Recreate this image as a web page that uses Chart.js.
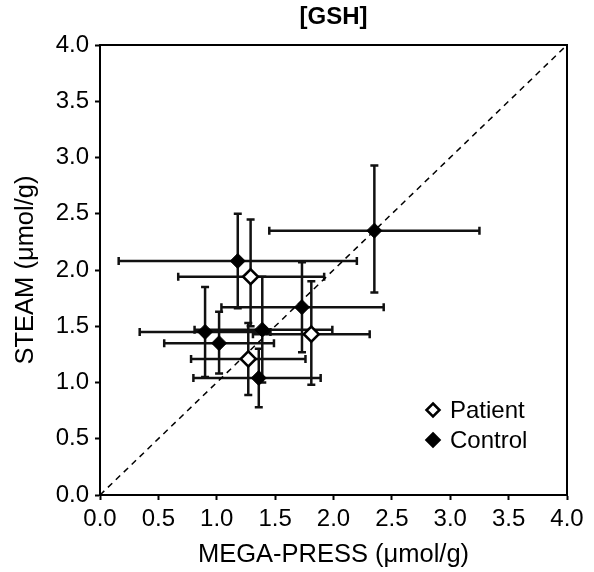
<!DOCTYPE html>
<html>
<head>
<meta charset="utf-8">
<script src="https://cdn.jsdelivr.net/npm/chart.js@4"></script>
<style>
  body { margin: 0; background: #fff; }
  #wrap { width: 594px; height: 572px; }
</style>
</head>
<body>
<div id="wrap"><canvas id="gsh" width="594" height="572"></canvas></div>
<script>
// Axis ticks (both axes share the same range)
const tickVals = [0, 0.5, 1, 1.5, 2, 2.5, 3, 3.5, 4];

// Line of identity
const diagX = [0, 4];
const diagY = [0, 4];

// Patient points: MEGA-PRESS (x) vs STEAM (y), with error bar ends
const patientX    = [1.29, 1.81, 1.27];
const patientY    = [1.94, 1.43, 1.21];
const patientXLo  = [0.67, 1.31, 0.78];
const patientXHi  = [1.92, 2.31, 1.76];
const patientYLo  = [1.50, 0.98, 0.89];
const patientYHi  = [2.45, 1.90, 1.53];

// Control points
const controlX    = [1.18, 2.35, 1.73, 0.90, 1.39, 1.02, 1.36];
const controlY    = [2.08, 2.35, 1.67, 1.45, 1.47, 1.35, 1.04];
const controlXLo  = [0.16, 1.45, 1.04, 0.34, 0.81, 0.55, 0.80];
const controlXHi  = [2.20, 3.25, 2.43, 1.46, 1.99, 1.49, 1.89];
const controlYLo  = [1.66, 1.80, 1.27, 1.05, 1.00, 1.08, 0.78];
const controlYHi  = [2.50, 2.93, 2.07, 1.85, 1.94, 1.63, 1.30];

const FONT = "'Liberation Sans', Arial, sans-serif";

function toPoints(xs, ys, xlo, xhi, ylo, yhi) {
    return xs.map((x, i) => ({
        x: x, y: ys[i],
        xMin: xlo[i], xMax: xhi[i],
        yMin: ylo[i], yMax: yhi[i]
    }));
}

// Draws the error bars of every scatter dataset through the chart scales
const errorBars = {
    id: 'errorBars',
    beforeDatasetsDraw(chart) {
        const ctx = chart.ctx;
        const xs = chart.scales.x, ys = chart.scales.y;
        const cap = 4;
        ctx.save();
        ctx.strokeStyle = '#111';
        ctx.lineWidth = 2.5;
        chart.data.datasets.forEach(ds => {
            if (!ds.errorBars) return;
            ds.data.forEach(p => {
                const px = xs.getPixelForValue(p.x);
                const py = ys.getPixelForValue(p.y);
                const x0 = xs.getPixelForValue(p.xMin), x1 = xs.getPixelForValue(p.xMax);
                const y0 = ys.getPixelForValue(p.yMin), y1 = ys.getPixelForValue(p.yMax);
                ctx.beginPath();
                ctx.moveTo(x0, py); ctx.lineTo(x1, py);
                ctx.moveTo(x0, py - cap); ctx.lineTo(x0, py + cap);
                ctx.moveTo(x1, py - cap); ctx.lineTo(x1, py + cap);
                ctx.moveTo(px, y0); ctx.lineTo(px, y1);
                ctx.moveTo(px - cap, y0); ctx.lineTo(px + cap, y0);
                ctx.moveTo(px - cap, y1); ctx.lineTo(px + cap, y1);
                ctx.stroke();
            });
        });
        ctx.restore();
    }
};

// Top and right sides of the plot frame
const frame = {
    id: 'frame',
    afterDraw(chart) {
        const a = chart.chartArea;
        const ctx = chart.ctx;
        ctx.save();
        ctx.strokeStyle = '#000';
        ctx.lineWidth = 2;
        ctx.beginPath();
        ctx.moveTo(a.left, a.top);
        ctx.lineTo(a.right, a.top);
        ctx.lineTo(a.right, a.bottom);
        ctx.stroke();
        ctx.restore();
    }
};

// Legend in the lower right of the plot
const innerLegend = {
    id: 'innerLegend',
    afterDraw(chart) {
        const a = chart.chartArea;
        const ctx = chart.ctx;
        const items = chart.data.datasets.filter(ds => ds.errorBars);
        const x = a.right - 134;
        let y = a.bottom - 85;
        const r = 6.5;
        ctx.save();
        ctx.font = '24px ' + FONT;
        ctx.textBaseline = 'middle';
        items.forEach(ds => {
            ctx.beginPath();
            ctx.moveTo(x, y - r); ctx.lineTo(x + r, y);
            ctx.lineTo(x, y + r); ctx.lineTo(x - r, y);
            ctx.closePath();
            ctx.fillStyle = ds.backgroundColor;
            ctx.fill();
            ctx.lineWidth = 2.5;
            ctx.strokeStyle = '#000';
            ctx.stroke();
            ctx.fillStyle = '#000';
            ctx.fillText(ds.label, x + 17, y + 1);
            y += 30;
        });
        ctx.restore();
    }
};

const axisTicks = scale => { scale.ticks = tickVals.map(v => ({ value: v })); };

new Chart(document.getElementById('gsh'), {
    type: 'scatter',
    data: {
        datasets: [
            {
                label: 'Patient',
                data: toPoints(patientX, patientY, patientXLo, patientXHi, patientYLo, patientYHi),
                errorBars: true,
                pointStyle: 'rectRot',
                pointRadius: 7.5,
                backgroundColor: '#fff',
                borderColor: '#000',
                borderWidth: 2.5,
                order: 1
            },
            {
                label: 'Control',
                data: toPoints(controlX, controlY, controlXLo, controlXHi, controlYLo, controlYHi),
                errorBars: true,
                pointStyle: 'rectRot',
                pointRadius: 7.5,
                backgroundColor: '#000',
                borderColor: '#000',
                borderWidth: 1,
                order: 2
            },
            {
                label: 'identity',
                type: 'line',
                data: diagX.map((x, i) => ({ x: x, y: diagY[i] })),
                borderColor: '#000',
                borderWidth: 1.5,
                borderDash: [6, 5],
                pointRadius: 0,
                fill: false,
                order: 3
            }
        ]
    },
    options: {
        responsive: false,
        animation: false,
        layout: { padding: { left: 0, right: 27, top: 0, bottom: 0 } },
        plugins: {
            legend: { display: false },
            tooltip: { enabled: false },
            title: {
                display: true,
                text: '[GSH]',
                fullSize: false,
                color: '#000',
                font: { family: FONT, size: 24, weight: 'bold' },
                padding: { top: 2.6, bottom: 13.6 }
            }
        },
        scales: {
            x: {
                type: 'linear',
                min: 0, max: 4,
                afterBuildTicks: axisTicks,
                afterFit: s => { s.height = 77; },
                grid: { drawOnChartArea: false, drawTicks: true, tickLength: 5, tickColor: '#000', tickWidth: 2 },
                border: { display: true, color: '#000', width: 2 },
                ticks: {
                    color: '#000', padding: 5, maxRotation: 0, autoSkip: false,
                    font: { family: FONT, size: 24 },
                    callback: v => Number(v).toFixed(1)
                },
                title: {
                    display: true,
                    text: 'MEGA-PRESS (μmol/g)',
                    color: '#000',
                    font: { family: FONT, size: 25.5 },
                    padding: { top: 0, bottom: 2 }
                }
            },
            y: {
                type: 'linear',
                min: 0, max: 4,
                afterBuildTicks: axisTicks,
                afterFit: s => { s.width = 100; },
                grid: { drawOnChartArea: false, drawTicks: true, tickLength: 5, tickColor: '#000', tickWidth: 2 },
                border: { display: true, color: '#000', width: 2 },
                ticks: {
                    color: '#000', padding: 6, autoSkip: false,
                    font: { family: FONT, size: 24 },
                    callback: v => Number(v).toFixed(1)
                },
                title: {
                    display: true,
                    text: 'STEAM (μmol/g)',
                    color: '#000',
                    font: { family: FONT, size: 25.5 },
                    padding: { top: 11, bottom: 0 }
                }
            }
        }
    },
    plugins: [errorBars, frame, innerLegend]
});
</script>
</body>
</html>
